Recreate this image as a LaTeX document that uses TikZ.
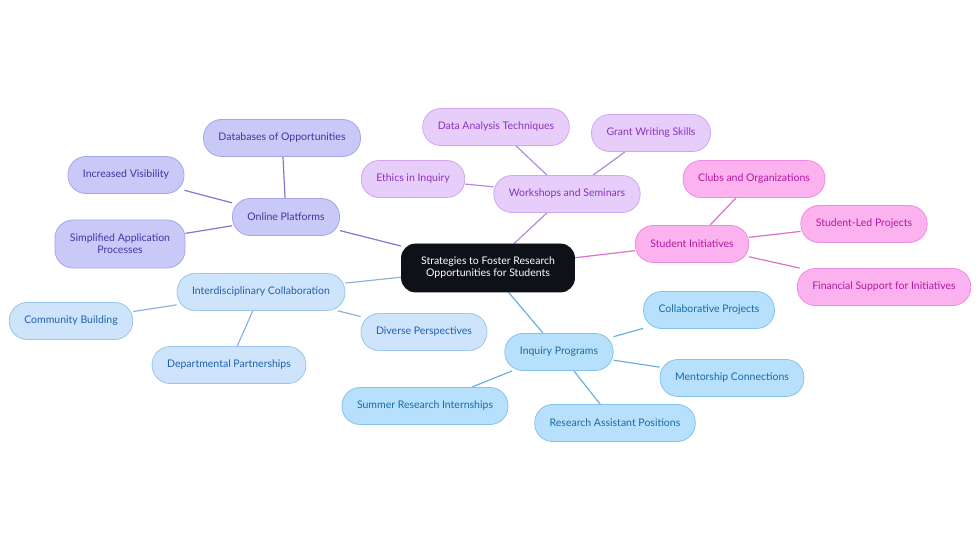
\documentclass[tikz,border=0pt]{standalone}
\usepackage{fontspec}
\setmainfont{Lato}
\usetikzlibrary{backgrounds}

\definecolor{rootfill}{HTML}{0E1218}
\definecolor{platfill}{HTML}{C9C9F7}
\definecolor{platdraw}{HTML}{A7A4EC}
\definecolor{plattext}{HTML}{3D37A3}
\definecolor{platline}{HTML}{7D77D8}
\definecolor{workfill}{HTML}{E7CDFA}
\definecolor{workdraw}{HTML}{CFA6EF}
\definecolor{worktext}{HTML}{8A32BE}
\definecolor{workline}{HTML}{B688E0}
\definecolor{initfill}{HTML}{FBB2EF}
\definecolor{initdraw}{HTML}{EE8CE0}
\definecolor{inittext}{HTML}{B3199E}
\definecolor{initline}{HTML}{DE6FCD}
\definecolor{collfill}{HTML}{CEE4FB}
\definecolor{colldraw}{HTML}{9CC4EE}
\definecolor{colltext}{HTML}{2160AE}
\definecolor{collline}{HTML}{8AB3E1}
\definecolor{inqfill}{HTML}{B6E0FB}
\definecolor{inqdraw}{HTML}{86C3EC}
\definecolor{inqtext}{HTML}{1A6AA6}
\definecolor{inqline}{HTML}{6BB0DE}

\begin{document}
\begin{tikzpicture}[
    x=1pt, y=-1pt,
    every node/.style={font=\fontsize{10.5}{12}\selectfont},
    box/.style={rounded corners=18pt, minimum height=37pt, inner xsep=15pt, align=center, line width=0.8pt},
    topic/.style={box, fill=rootfill, draw=rootfill, text=white, rounded corners=14pt, minimum width=173pt, minimum height=48pt},
    platform/.style={box, fill=platfill, draw=platdraw, text=plattext},
    workshop/.style={box, fill=workfill, draw=workdraw, text=worktext},
    initiative/.style={box, fill=initfill, draw=initdraw, text=inittext},
    collab/.style={box, fill=collfill, draw=colldraw, text=colltext},
    inquiry/.style={box, fill=inqfill, draw=inqdraw, text=inqtext},
    link/.style={line width=1.2pt}
]
   \useasboundingbox (0,0) rectangle (980,553);

   % Root
   \node[topic] (root) at (488,268) {Strategies to Foster Research\\Opportunities for Students};

   % Online platforms
   \node[platform] (online) at (286,217) {Online Platforms};
   \node[platform] (databases) at (282,138) {Databases of Opportunities};
   \node[platform] (visibility) at (126,175) {Increased Visibility};
   \node[platform, minimum height=48pt] (simplified) at (120,244) {Simplified Application\\Processes};

   % Workshops
   \node[workshop] (workshops) at (567,194) {Workshops and Seminars};
   \node[workshop] (analysis) at (496,127) {Data Analysis Techniques};
   \node[workshop] (grant) at (651,133) {Grant Writing Skills};
   \node[workshop] (ethics) at (413,179) {Ethics in Inquiry};

   % Student initiatives
   \node[initiative] (student) at (692,244) {Student Initiatives};
   \node[initiative] (clubs) at (754,179) {Clubs and Organizations};
   \node[initiative] (led) at (864,224) {Student-Led Projects};
   \node[initiative] (financial) at (884,287) {Financial Support for Initiatives};

   % Interdisciplinary collaboration
   \node[collab] (inter) at (261,292) {Interdisciplinary Collaboration};
   \node[collab] (community) at (71,321) {Community Building};
   \node[collab] (diverse) at (424,332) {Diverse Perspectives};
   \node[collab] (departmental) at (229,365) {Departmental Partnerships};

   % Inquiry programs
   \node[inquiry] (programs) at (559,352) {Inquiry Programs};
   \node[inquiry] (collaborative) at (709,310) {Collaborative Projects};
   \node[inquiry] (mentorship) at (732,378) {Mentorship Connections};
   \node[inquiry] (summer) at (425,406) {Summer Research Internships};
   \node[inquiry] (assistant) at (615,423) {Research Assistant Positions};

   % Links
   \begin{pgfonlayer}{background}
   \draw[link, platline] (root) -- (online)
      (online) -- (databases)
      (online) -- (visibility)
      (online) -- (simplified);
   \draw[link, workline] (root) -- (workshops)
      (workshops) -- (analysis)
      (workshops) -- (grant)
      (workshops) -- (ethics);
   \draw[link, initline] (root) -- (student)
      (student) -- (clubs)
      (student) -- (led)
      (student) -- (financial);
   \draw[link, collline] (root) -- (inter)
      (inter) -- (community)
      (inter) -- (diverse)
      (inter) -- (departmental);
   \draw[link, inqline] (root) -- (programs)
      (programs) -- (collaborative)
      (programs) -- (mentorship)
      (programs) -- (summer)
      (programs) -- (assistant);
   \end{pgfonlayer}
\end{tikzpicture}
\end{document}
